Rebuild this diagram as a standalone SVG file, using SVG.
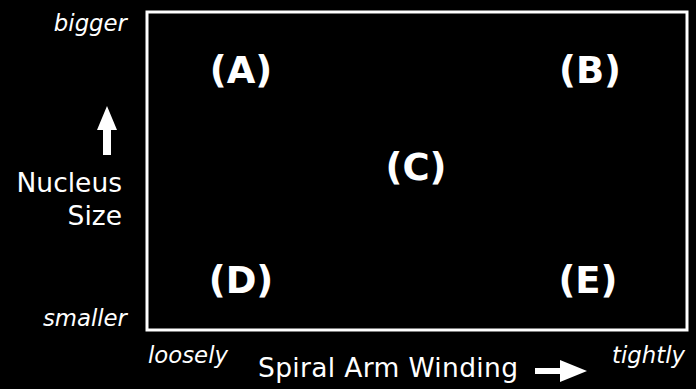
<svg xmlns="http://www.w3.org/2000/svg" width="696" height="389" viewBox="0 0 696 389">
<style>
.lbl{font-family:"DejaVu Sans",sans-serif;font-weight:bold;font-size:37px;fill:#fff;text-anchor:middle}
.ax{font-family:"DejaVu Sans",sans-serif;font-size:26.5px;fill:#fff}
.it{font-family:"DejaVu Sans",sans-serif;font-style:italic;font-size:22.8px;fill:#fff}
</style>
<rect width="696" height="389" fill="#000"/>
<g id="frame"><rect x="147" y="12" width="540" height="318" fill="none" stroke="#fff" stroke-width="3"/></g>
<g id="A"><text class="lbl" x="241" y="83">(A)</text></g>
<g id="B"><text class="lbl" x="590" y="83">(B)</text></g>
<g id="C"><text class="lbl" x="416" y="180">(C)</text></g>
<g id="D"><text class="lbl" x="241" y="293">(D)</text></g>
<g id="E"><text class="lbl" x="588" y="293">(E)</text></g>
<g id="axes">
<text class="it" x="127" y="31" text-anchor="end">bigger</text>
<text class="it" x="127" y="326" text-anchor="end">smaller</text>
<text class="it" x="148" y="363">loosely</text>
<text class="it" x="685" y="363" text-anchor="end">tightly</text>
<text class="ax" x="122" y="192" text-anchor="end">Nucleus</text>
<text class="ax" x="122" y="225" text-anchor="end">Size</text>
<text class="ax" x="258" y="377" font-size="27.3" textLength="260" lengthAdjust="spacing">Spiral Arm Winding</text>
<polygon points="103,155 111,155 111,130 117,130 107,106 97,130 103,130" fill="#fff"/>
<polygon points="535,368 560,368 560,360 587,371 560,382 560,374 535,374" fill="#fff"/>
</g>
</svg>
